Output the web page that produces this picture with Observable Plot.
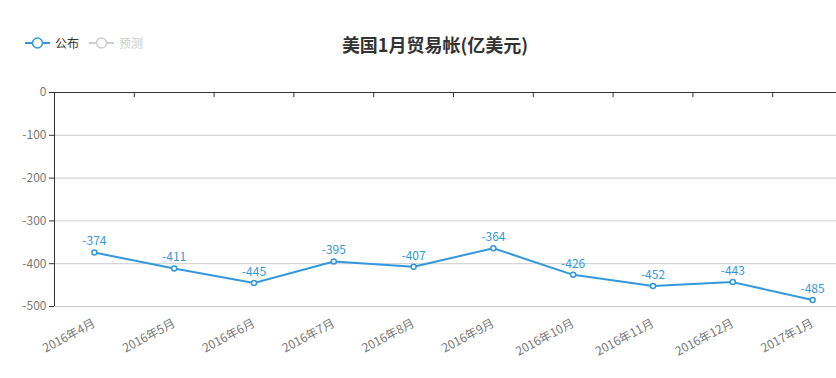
<!DOCTYPE html>
<html>
<head>
<meta charset="utf-8">
<script src="https://cdn.jsdelivr.net/npm/d3@7"></script>
<script src="https://cdn.jsdelivr.net/npm/@observablehq/plot@0.6"></script>
<style>
  body { margin: 0; background: #fff; font-family: "Noto Sans CJK SC", "Noto Sans", sans-serif; }
  #wrap { position: relative; width: 836px; height: 378px; overflow: hidden; }
  #title { position: absolute; left: 0; width: 870px; top: 31px; text-align: center; font-size: 18px; font-weight: bold; color: #333; }
  #legend { position: absolute; left: 25px; top: 34px; font-size: 12px; display: flex; align-items: center; }
  .item { display: flex; align-items: center; margin-right: 10px; }
  .item svg { margin-right: 5px; }
  #chart { position: absolute; left: 0; top: 0; }
</style>
</head>
<body>
<div id="wrap">
  <div id="chart"></div>
  <div id="title">美国1月贸易帐(亿美元)</div>
  <div id="legend">
    <div class="item"><svg width="25" height="14"><line x1="0" y1="7" x2="25" y2="7" stroke="#3398DB" stroke-width="2"/><circle cx="12.5" cy="7" r="5" fill="#fff" stroke="#3398DB" stroke-width="1.5"/></svg><span style="color:#333">公布</span></div>
    <div class="item"><svg width="25" height="14"><line x1="0" y1="7" x2="25" y2="7" stroke="#ccc" stroke-width="2"/><circle cx="12.5" cy="7" r="5" fill="#fff" stroke="#ccc" stroke-width="1.5"/></svg><span style="color:#ccc">预测</span></div>
  </div>
</div>
<script>
const months = ["2016年4月","2016年5月","2016年6月","2016年7月","2016年8月","2016年9月","2016年10月","2016年11月","2016年12月","2017年1月"];
const published = [-374, -411, -445, -395, -407, -364, -426, -452, -443, -485];
const yTicks = [0, -100, -200, -300, -400, -500];

const data = months.map((m, i) => ({i, month: m, value: published[i]}));
const boundaries = d3.range(months.length + 1).map(k => k - 0.5);
const blue = "#3398DB";

const chart = Plot.plot({
  width: 836,
  height: 378,
  marginTop: 92,
  marginBottom: 72,
  marginLeft: 54,
  marginRight: 0,
  style: {fontFamily: '"Noto Sans CJK SC", "Noto Sans", sans-serif', fontSize: "12px", background: "transparent"},
  x: {domain: [-0.5, months.length - 0.5], range: [54, 852]},
  y: {domain: [-500, 0]},
  marks: [
    Plot.ruleY(yTicks.filter(d => d !== 0), {stroke: "#ccc", strokeWidth: 1}),
    Plot.ruleY([0], {stroke: "#333", strokeWidth: 1}),
    Plot.ruleX(boundaries, {x: d => d, y1: 0, y2: -12, stroke: "#333"}),
    Plot.ruleX([-0.5], {y1: -500, y2: 0, stroke: "#333"}),
    Plot.axisY({ticks: yTicks, tickSize: 5, tickPadding: 3, stroke: "#333", fill: "#777", label: null, tickFormat: d => d}),
    Plot.axisX({ticks: d3.range(months.length), tickFormat: i => months[i], tickRotate: -28, tickSize: 0, tickPadding: 16, fill: "#777", label: null}),
    Plot.line(data, {x: "i", y: "value", stroke: blue, strokeWidth: 2}),
    Plot.dot(data, {x: "i", y: "value", r: 2.5, fill: "#fff", stroke: blue, strokeWidth: 1.5}),
    Plot.text(data, {x: "i", y: "value", text: d => String(d.value), dy: -11, fill: blue, fontSize: 12})
  ]
});
document.getElementById("chart").appendChild(chart);
</script>
</body>
</html>
